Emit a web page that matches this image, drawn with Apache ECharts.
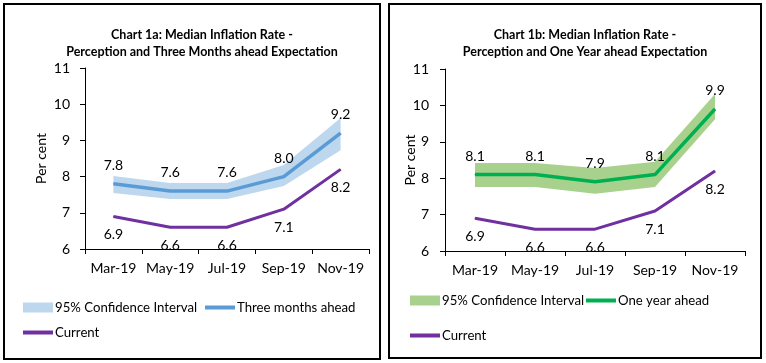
<!DOCTYPE html>
<html><head><meta charset="utf-8">
<script src="https://cdn.jsdelivr.net/npm/echarts@6/dist/echarts.min.js"></script>
<style>
html,body{margin:0;padding:0;background:#fff;width:766px;height:363px;overflow:hidden;}
#c1,#c2{position:absolute;border:2px solid #000;}
#c1{left:3px;top:3px;width:374px;height:353px;}
#c2{left:388px;top:3px;width:370px;height:352px;}
</style></head>
<body>
<div id="c1"></div><div id="c2"></div>
<script>
const categories = ['Mar-19','May-19','Jul-19','Sep-19','Nov-19'];
const yTicks = [6,7,8,9,10,11];
const current = [6.9, 6.6, 6.6, 7.1, 8.2];
const threeMonths = [7.8, 7.6, 7.6, 8.0, 9.2];
const threeMonthsCiLow = [7.55, 7.38, 7.38, 7.74, 8.73];
const threeMonthsCiHigh = [8.02, 7.82, 7.82, 8.32, 9.62];
const oneYear = [8.1, 8.1, 7.9, 8.1, 9.9];
const oneYearCiLow = [7.76, 7.76, 7.57, 7.76, 9.62];
const oneYearCiHigh = [8.42, 8.42, 8.28, 8.45, 10.31];

const FONT = 'Lato';
const TXT = '#000';
const PURPLE = '#7030A0';
const LINE_ICON = 'path://M0,0H30V4H0Z';

function build(cfg) {
  const diff = cfg.hi.map((v, i) => +(v - cfg.lo[i]).toFixed(3));
  const legendText = {fontFamily: FONT, fontSize: 13.2, color: TXT, padding: [0,0,0,-3]};
  const legendBase = {orient:'horizontal', itemWidth:30, itemHeight:10, textStyle: legendText, selectedMode:false, padding:0, itemGap:0};
  const lbl = {fontFamily: FONT, fontSize: 14, color: TXT, formatter: p => Number(p.value).toFixed(1)};
  return {
    animation: false,
    title: {
      text: cfg.title, left: cfg.titleX, top: 16, textAlign: 'center',
      textStyle: {fontFamily: FONT, fontSize: 12.5, fontWeight: 'bold', color: TXT, lineHeight: 17}
    },
    grid: {left: cfg.grid[0], top: cfg.grid[1], width: cfg.grid[2], height: cfg.grid[3]},
    legend: [
      Object.assign({}, legendBase, {left: cfg.leg[0][0], top: cfg.leg[0][1], data: [{name:'95% Confidence Interval', icon:'rect', itemStyle:{color: cfg.band, borderWidth:0}}]}),
      Object.assign({}, legendBase, {left: cfg.leg[1][0], top: cfg.leg[1][1], data: [{name: cfg.lineName, icon: LINE_ICON, itemStyle:{color: cfg.lineColor, borderWidth:0}}]}),
      Object.assign({}, legendBase, {left: cfg.leg[2][0], top: cfg.leg[2][1], data: [{name:'Current', icon: LINE_ICON, itemStyle:{color: PURPLE, borderWidth:0}}]})
    ],
    xAxis: {
      type: 'category', data: categories, boundaryGap: true,
      axisLine: {lineStyle: {color: '#000', width: 1}},
      axisTick: {show: true, length: 5, lineStyle:{color:'#000'}},
      axisLabel: {fontFamily: FONT, fontSize: 14, color: TXT, margin: 12, interval: 0}
    },
    yAxis: {
      type: 'value', min: yTicks[0], max: yTicks[yTicks.length-1], interval: 1,
      name: 'Per cent', nameLocation: 'middle', nameGap: cfg.nameGap, nameRotate: 90,
      nameMoveOverlap: false,
      nameTextStyle: {fontFamily: FONT, fontSize: 14, color: TXT},
      axisLine: {show: true, lineStyle: {color: '#000', width: 1}},
      axisTick: {show: true, length: 5, lineStyle:{color:'#000'}},
      splitLine: {show: false},
      axisLabel: {fontFamily: FONT, fontSize: 14, color: TXT, margin: cfg.labelMargin}
    },
    series: [
      {name: 'ciLow', type: 'line', stack: 'ci', data: cfg.lo, symbol: 'none', silent: true,
       lineStyle: {width: 0, opacity: 0}, itemStyle:{color:'transparent'}},
      {name: '95% Confidence Interval', type: 'line', stack: 'ci', data: diff, symbol: 'none', silent: true,
       lineStyle: {width: 0, opacity: 0}, itemStyle: {color: cfg.band},
       areaStyle: {color: cfg.band, opacity: 1}},
      {name: cfg.lineName, type: 'line', data: cfg.line, symbol: 'circle', symbolSize: 1, showSymbol: true,
       lineStyle: {width: 3.5, color: cfg.lineColor}, itemStyle: {color: cfg.lineColor},
       label: Object.assign({show: true, position: 'top', distance: 11}, lbl)},
      {name: 'Current', type: 'line', data: current, symbol: 'circle', symbolSize: 1, showSymbol: true,
       lineStyle: {width: 3, color: PURPLE}, itemStyle: {color: PURPLE},
       label: Object.assign({show: true, position: 'bottom', distance: 11}, lbl)}
    ]
  };
}

const ch1 = echarts.init(document.getElementById('c1'), null, {renderer: 'canvas'});
ch1.setOption(build({
  title: 'Chart 1a: Median Inflation Rate -\nPerception and Three Months ahead Expectation',
  titleX: 192, grid: [80, 63, 284, 181], nameGap: 37, labelMargin: 15,
  band: '#BDD7EE', lineColor: '#5B9BD5', lineName: 'Three months ahead',
  line: threeMonths, lo: threeMonthsCiLow, hi: threeMonthsCiHigh,
  leg: [[18, 296], [200, 296], [18, 321]]
}));
const ch2 = echarts.init(document.getElementById('c2'), null, {renderer: 'canvas'});
ch2.setOption(build({
  title: 'Chart 1b: Median Inflation Rate -\nPerception and One Year ahead Expectation',
  titleX: 190, grid: [55, 64, 300, 182], nameGap: 28, labelMargin: 16,
  band: '#A9D18E', lineColor: '#00B050', lineName: 'One year ahead',
  line: oneYear, lo: oneYearCiLow, hi: oneYearCiHigh,
  leg: [[20, 289], [196, 289], [20, 324]]
}));
</script>
</body></html>
